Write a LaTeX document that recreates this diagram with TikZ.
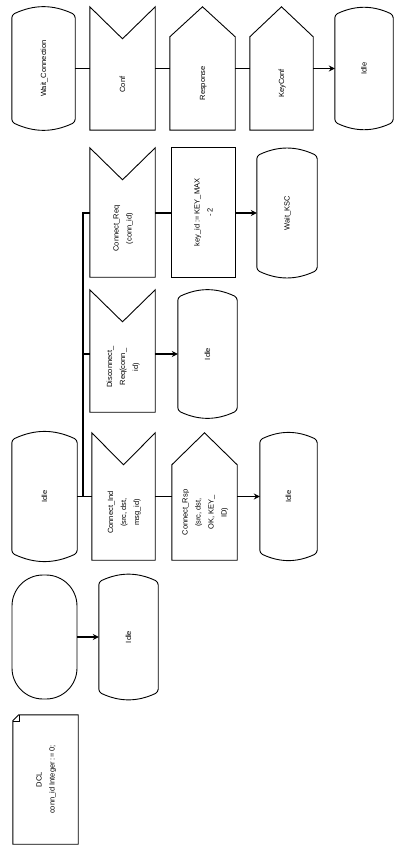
\documentclass[tikz,border=0pt]{standalone}
\usepackage{graphicx}
\usepackage{fontspec}
\setmainfont{Liberation Sans}
\usetikzlibrary{arrows.meta,calc}
\tikzset{
  body/.style={draw=none, inner sep=0pt, minimum width=#1},
  shp/.style={draw=black, line width=0.9pt},
  conn/.style={draw=black, line width=1.1pt},
  arr/.style={conn, -{Stealth[length=6pt,width=6pt]}},
}
\newcommand{\rt}[1]{\rotatebox{90}{\fontsize{7.5}{13}\selectfont\begin{tabular}{@{}c@{}}#1\end{tabular}}}
\newcommand{\sdlstate}[1]{\draw[shp, rounded corners=3pt] (#1.north west) to[bend left=25] (#1.north east) -- (#1.south east) to[bend left=25] (#1.south west) -- cycle;}
\newcommand{\sdlinput}[2]{\draw[shp] ([yshift=#2]#1.north west) -- (#1.north) -- ([yshift=#2]#1.north east) -- (#1.south east) -- (#1.south west) -- cycle;}
\newcommand{\sdloutput}[2]{\draw[shp] (#1.north west) -- ([yshift=#2]#1.north) -- (#1.north east) -- (#1.south east) -- (#1.south west) -- cycle;}
\begin{document}
\begin{tikzpicture}[x=1pt,y=-1pt]
\useasboundingbox (0,0) rectangle (394,850);
% ---------- Row A
\node[body=63, minimum height=107] (sA1) at (43.5,68.5) {\rt{Wait\_Connection}};
\node[body=65, minimum height=91] (iA2) at (122.5,84.5) {\rt{Conf}};
\node[body=65, minimum height=93] (oA3) at (202.5,83.5) {\rt{Response}};
\node[body=63, minimum height=93] (oA4) at (281.5,83.5) {\rt{KeyConf}};
\node[body=58, minimum height=107] (sA5) at (364,68.5) {\rt{Idle}};
\sdlstate{sA1}
\sdlinput{iA2}{32pt}
\sdloutput{oA3}{30pt}
\sdloutput{oA4}{30pt}
\sdlstate{sA5}
\draw[conn] (sA1.east) -- (sA1.east -| iA2.west);
\draw[conn] (iA2.east |- sA1.east) -- (oA3.west |- sA1.east);
\draw[conn] (oA3.east |- sA1.east) -- (oA4.west |- sA1.east);
\draw[arr] (oA4.east |- sA1.east) -- (sA5.west |- sA1.east);
% ---------- Row B
\node[body=65, minimum height=97] (iB) at (122.5,228.5) {\rt{Connect\_Req\\(conn\_id)}};
\node[body=63, minimum height=129] (tB) at (203.5,212.5) {\rt{key\_id := KEY\_MAX\\- 2}};
\node[body=60, minimum height=114] (sB) at (287,213) {\rt{Wait\_KSC}};
\sdlinput{iB}{32pt}
\draw[shp] (tB.north west) rectangle (tB.south east);
\sdlstate{sB}
\draw[conn] (iB.east |- sB.west) -- (tB.west |- sB.west);
\draw[arr] (tB.east |- sB.west) -- (sB.west);
% ---------- Row C
\node[body=65, minimum height=90] (iC) at (122.5,367) {\rt{Disconnect\_\\Req(conn\_\\id)}};
\node[body=59, minimum height=113] (sC) at (207.5,354) {\rt{Idle}};
\sdlinput{iC}{32pt}
\sdlstate{sC}
\draw[arr] (iC.east |- sC.west) -- (sC.west);
% ---------- Row D
\node[body=65, minimum height=113] (sD1) at (44.5,496.5) {\rt{Idle}};
\node[body=63, minimum height=95] (iD) at (123.5,512.5) {\rt{Connect\_Ind\\(src, dst,\\msg\_id)}};
\node[body=65, minimum height=95] (oD) at (204.5,512.5) {\rt{Connect\_Rsp\\(src, dst,\\OK, KEY\_\\ID)}};
\node[body=57, minimum height=113] (sD2) at (288.5,496.5) {\rt{Idle}};
\sdlstate{sD1}
\sdlinput{iD}{32pt}
\sdloutput{oD}{32pt}
\sdlstate{sD2}
\coordinate (br) at ($(sD1.east)!0.4!(sD1.east -| iD.west)$);
\draw[conn] (sD1.east) -- (sD1.east -| iD.west);
\draw[conn] (iD.east |- sD1.east) -- (oD.west |- sD1.east);
\draw[arr] (oD.east |- sD1.east) -- (sD2.west);
\draw[conn] (br) |- (iB.west |- sB.west);
\draw[conn] (br |- sC.west) -- (iC.west |- sC.west);
% ---------- Row E
\node[draw=black, line width=0.9pt, rounded corners=31pt, minimum width=65, minimum height=124, inner sep=0pt] (stE) at (44.5,637) {};
\node[body=59, minimum height=110] (sE) at (128.5,637) {\rt{Idle}};
\sdlstate{sE}
\draw[arr] (stE.east) -- (sE.west);
% ---------- Row F
\node[body=65, minimum height=129] (tF) at (45.5,779.5) {\rt{DCL\\conn\_id Integer := 0;}};
\draw[shp] ([yshift=-6pt]tF.north west) -- ([xshift=6pt]tF.north west) -- (tF.north east) -- (tF.south east) -- (tF.south west) -- cycle;
\draw[shp, line width=0.6pt] ([xshift=6pt]tF.north west) -- ([xshift=6pt,yshift=-6pt]tF.north west) -- ([yshift=-6pt]tF.north west);
\end{tikzpicture}
\end{document}
